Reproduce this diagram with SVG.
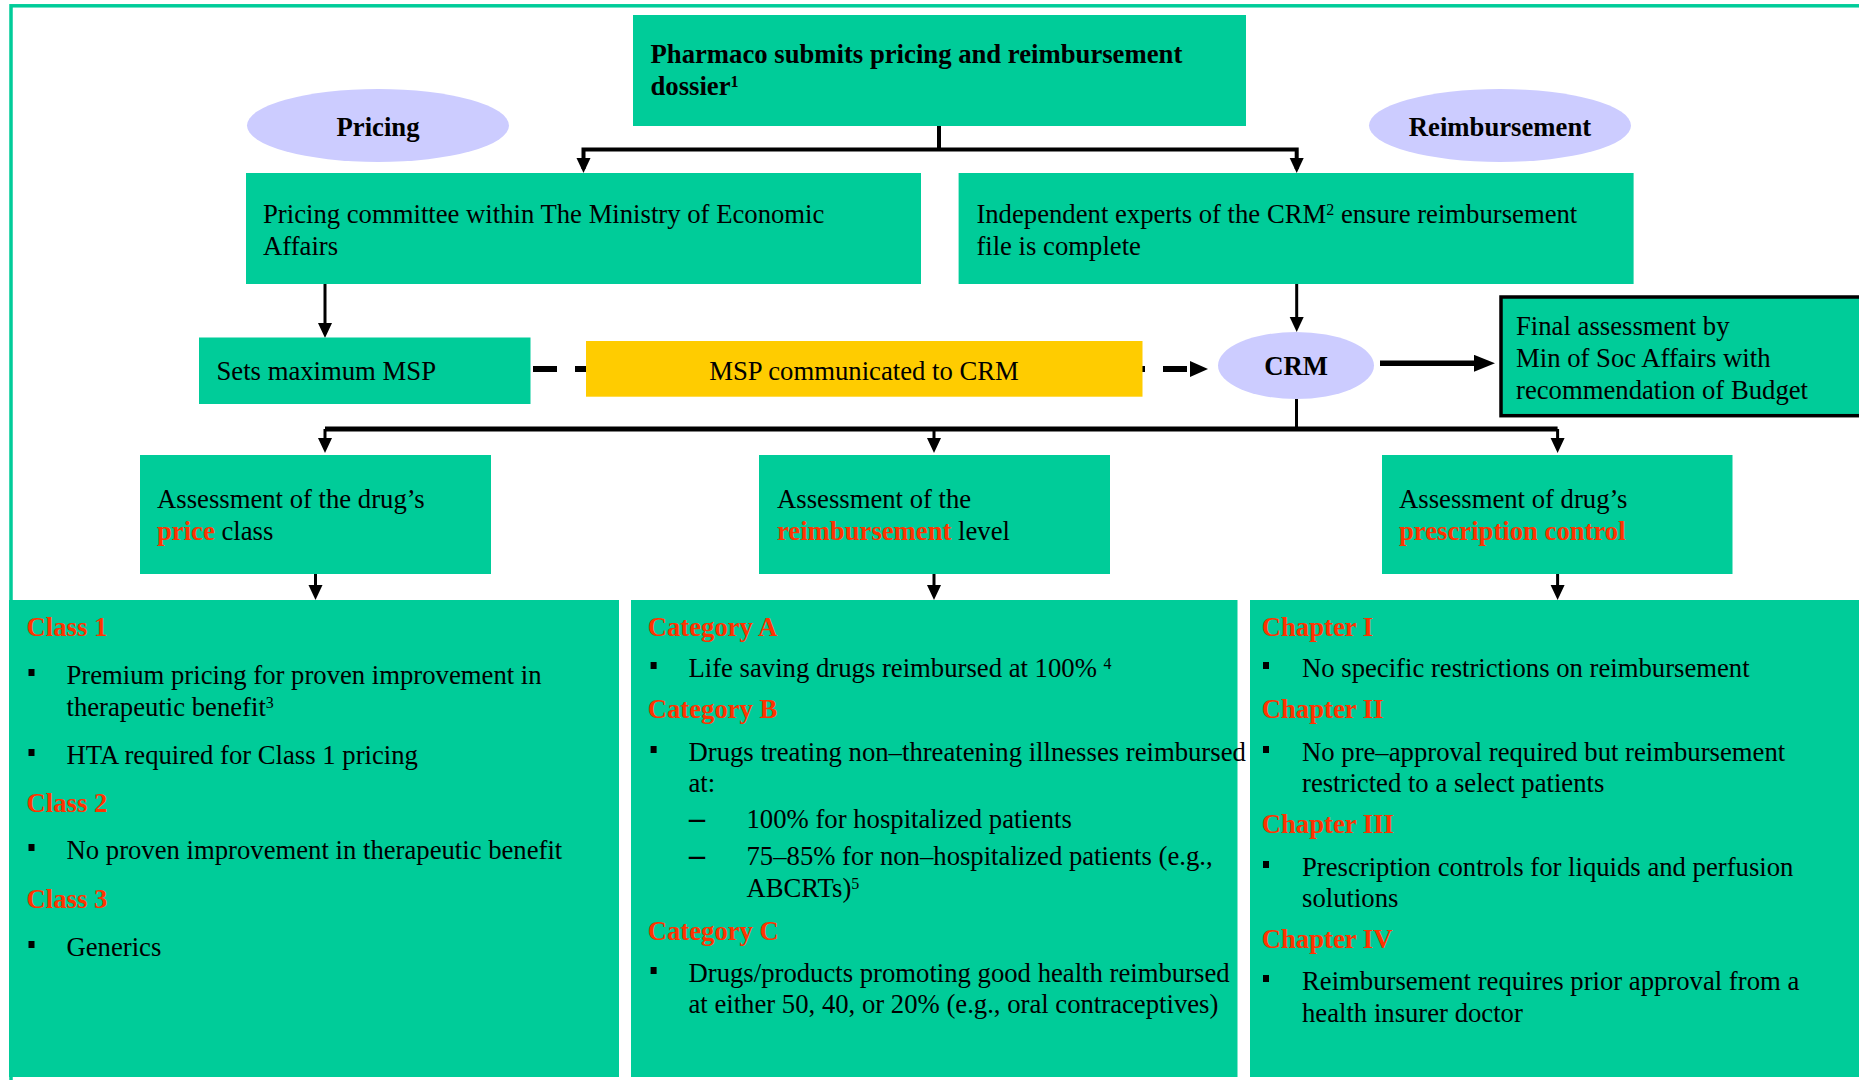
<svg xmlns="http://www.w3.org/2000/svg" width="1859" height="1080" viewBox="0 0 1859 1080">
<style>
.box{fill:#00CC99}
.ell{fill:#CCCCFF}
.t{font-family:"Liberation Serif","Times New Roman",serif;font-size:26.7px;fill:#000}
.b{font-weight:bold}
.r{fill:#FF3300;font-weight:bold}
.sup{font-size:16px}
.ctr{text-anchor:middle}
.bul{fill:#000}
.ln{stroke:#000;fill:none}
</style>
<defs>
<marker id="ah" markerUnits="userSpaceOnUse" markerWidth="16" markerHeight="16" refX="11" refY="7" orient="auto">
<path d="M0,0 L15,7 L0,14 z" fill="#000"/>
</marker>
<marker id="ahDash" markerUnits="userSpaceOnUse" markerWidth="20" markerHeight="18" refX="0" refY="8" orient="auto">
<path d="M0,0 L18,8 L0,16 z" fill="#000"/>
</marker>
<marker id="ahBig" markerUnits="userSpaceOnUse" markerWidth="22" markerHeight="18" refX="4" refY="8.5" orient="auto">
<path d="M0,0 L21,8.5 L0,17 z" fill="#000"/>
</marker>
</defs>
<rect width="1859" height="1080" fill="#fff"/>
<rect x="11" y="5.8" width="1900" height="1100" fill="none" stroke="#00CC99" stroke-width="3.5"/>

<g id="connectors">
<path class="ln" stroke-width="4" d="M939 126 V149.5"/>
<path class="ln" stroke-width="4" d="M939 149.5 H583.5 V169" marker-end="url(#ah)"/>
<path class="ln" stroke-width="4" d="M939 149.5 H1296.7 V169" marker-end="url(#ah)"/>
<path class="ln" stroke-width="3" d="M325 284 V334" marker-end="url(#ah)"/>
<path class="ln" stroke-width="3" d="M1296.7 284 V328" marker-end="url(#ah)"/>
<path class="ln" stroke-width="6" stroke-dasharray="24 18" d="M533 369 H1190" marker-end="url(#ahDash)"/>
<path class="ln" stroke-width="5.5" d="M1380 363.3 H1478" marker-end="url(#ahBig)"/>
<path class="ln" stroke-width="3" d="M1296.5 399 V429"/>
<path class="ln" stroke-width="5" d="M325 429 H1557.6"/>
<path class="ln" stroke-width="3" d="M325 429 V449" marker-end="url(#ah)"/>
<path class="ln" stroke-width="3" d="M934 429 V449" marker-end="url(#ah)"/>
<path class="ln" stroke-width="3" d="M1557.6 429 V449" marker-end="url(#ah)"/>
<path class="ln" stroke-width="3" d="M315.5 574 V596" marker-end="url(#ah)"/>
<path class="ln" stroke-width="3" d="M934 574 V596" marker-end="url(#ah)"/>
<path class="ln" stroke-width="3" d="M1557.6 574 V596" marker-end="url(#ah)"/>
</g>

<g id="node-dossier">
<rect class="box" x="633" y="15" width="613" height="111"/>
<text class="t b" x="650.5" y="63.3">Pharmaco submits pricing and reimbursement</text>
<text class="t b" x="650.5" y="95">dossier<tspan class="sup" dy="-8">1</tspan></text>
</g>

<g id="node-pricing-label">
<ellipse class="ell" cx="378" cy="125.5" rx="131" ry="36.5"/>
<text class="t b ctr" x="378" y="136">Pricing</text>
</g>

<g id="node-reimbursement-label">
<ellipse class="ell" cx="1500" cy="125.5" rx="131" ry="36.5"/>
<text class="t b ctr" x="1500" y="136">Reimbursement</text>
</g>

<g id="node-pricing-committee">
<rect class="box" x="246" y="173" width="675" height="111"/>
<text class="t" x="263" y="222.7">Pricing committee within The Ministry of Economic</text>
<text class="t" x="263" y="255">Affairs</text>
</g>

<g id="node-experts">
<rect class="box" x="958.6" y="173" width="675" height="111"/>
<text class="t" x="976.4" y="222.7">Independent experts of the CRM<tspan class="sup" dy="-8">2</tspan><tspan dy="8"> ensure reimbursement</tspan></text>
<text class="t" x="976.4" y="255">file is complete</text>
</g>

<g id="node-msp">
<rect class="box" x="199" y="337.5" width="331.5" height="66.5"/>
<text class="t" x="216.5" y="380">Sets maximum MSP</text>
</g>

<g id="node-msp-communicated">
<rect x="586" y="341" width="556.5" height="55.7" fill="#FFCC00"/>
<text class="t ctr" x="864" y="380">MSP communicated to CRM</text>
</g>

<g id="node-crm">
<ellipse class="ell" cx="1296" cy="365.5" rx="78" ry="33.5"/>
<text class="t b ctr" x="1296" y="375">CRM</text>
</g>

<g id="node-final">
<rect class="box" x="1501" y="297" width="1355.5" height="118.7" stroke="#000" stroke-width="3.5"/>
<text class="t" x="1516" y="335">Final assessment by</text>
<text class="t" x="1516" y="367">Min of Soc Affairs with</text>
<text class="t" x="1516" y="398.7">recommendation of Budget</text>
</g>

<g id="node-price-class">
<rect class="box" x="140" y="455" width="351" height="119"/>
<text class="t" x="157" y="508">Assessment of the drug’s</text>
<text class="t" x="157" y="540"><tspan class="r">price</tspan> class</text>
</g>

<g id="node-reimb-level">
<rect class="box" x="759" y="455" width="351" height="119"/>
<text class="t" x="777" y="508">Assessment of the</text>
<text class="t" x="777" y="540"><tspan class="r">reimbursement</tspan> level</text>
</g>

<g id="node-prescription">
<rect class="box" x="1382" y="455" width="350.5" height="119"/>
<text class="t" x="1399" y="508">Assessment of drug’s</text>
<text class="t" x="1399" y="540"><tspan class="r">prescription control</tspan></text>
</g>

<g id="node-classes">
<rect class="box" x="9" y="600" width="610" height="477"/>
<text class="t r" x="26.5" y="636">Class 1</text>
<rect class="bul" x="28.5" y="669" width="6" height="7"/>
<text class="t" x="66.5" y="684">Premium pricing for proven improvement in</text>
<text class="t" x="66.5" y="716">therapeutic benefit<tspan class="sup" dy="-8">3</tspan></text>
<rect class="bul" x="28.5" y="749" width="6" height="7"/>
<text class="t" x="66.5" y="764">HTA required for Class 1 pricing</text>
<text class="t r" x="26.5" y="811.7">Class 2</text>
<rect class="bul" x="28.5" y="844" width="6" height="7"/>
<text class="t" x="66.5" y="859">No proven improvement in therapeutic benefit</text>
<text class="t r" x="26.5" y="907.7">Class 3</text>
<rect class="bul" x="28.5" y="941" width="6" height="7"/>
<text class="t" x="66.5" y="956">Generics</text>
</g>

<g id="node-categories">
<rect class="box" x="631" y="600" width="606.5" height="477"/>
<text class="t r" x="647.7" y="636">Category A</text>
<rect class="bul" x="650.6" y="662" width="6" height="7"/>
<text class="t" x="688.5" y="677">Life saving drugs reimbursed at 100% <tspan class="sup" dy="-8">4</tspan></text>
<text class="t r" x="647.7" y="718">Category B</text>
<rect class="bul" x="650.6" y="746" width="6" height="7"/>
<text class="t" x="688.5" y="760.7">Drugs treating non–threatening illnesses reimbursed</text>
<text class="t" x="688.5" y="791.7">at:</text>
<text class="t b" x="689" y="828" style="font-size:32px">–</text>
<text class="t" x="746.5" y="828">100% for hospitalized patients</text>
<text class="t b" x="689" y="865" style="font-size:32px">–</text>
<text class="t" x="746.5" y="865">75–85% for non–hospitalized patients (e.g.,</text>
<text class="t" x="746.5" y="896.7">ABCRTs)<tspan class="sup" dy="-8">5</tspan></text>
<text class="t r" x="647.7" y="940">Category C</text>
<rect class="bul" x="650.6" y="967" width="6" height="7"/>
<text class="t" x="688.5" y="981.7">Drugs/products promoting good health reimbursed</text>
<text class="t" x="688.5" y="1013">at either 50, 40, or 20% (e.g., oral contraceptives)</text>
</g>

<g id="node-chapters">
<rect class="box" x="1250" y="600" width="620" height="477"/>
<text class="t r" x="1261.7" y="636">Chapter I</text>
<rect class="bul" x="1263" y="662" width="6" height="7"/>
<text class="t" x="1302" y="677">No specific restrictions on reimbursement</text>
<text class="t r" x="1261.7" y="718">Chapter II</text>
<rect class="bul" x="1263" y="746" width="6" height="7"/>
<text class="t" x="1302" y="760.7">No pre–approval required but reimbursement</text>
<text class="t" x="1302" y="791.7">restricted to a select patients</text>
<text class="t r" x="1261.7" y="833">Chapter III</text>
<rect class="bul" x="1263" y="861" width="6" height="7"/>
<text class="t" x="1302" y="876">Prescription controls for liquids and perfusion</text>
<text class="t" x="1302" y="906.7">solutions</text>
<text class="t r" x="1261.7" y="948">Chapter IV</text>
<rect class="bul" x="1263" y="975" width="6" height="7"/>
<text class="t" x="1302" y="990">Reimbursement requires prior approval from a</text>
<text class="t" x="1302" y="1021.7">health insurer doctor</text>
</g>
</svg>
